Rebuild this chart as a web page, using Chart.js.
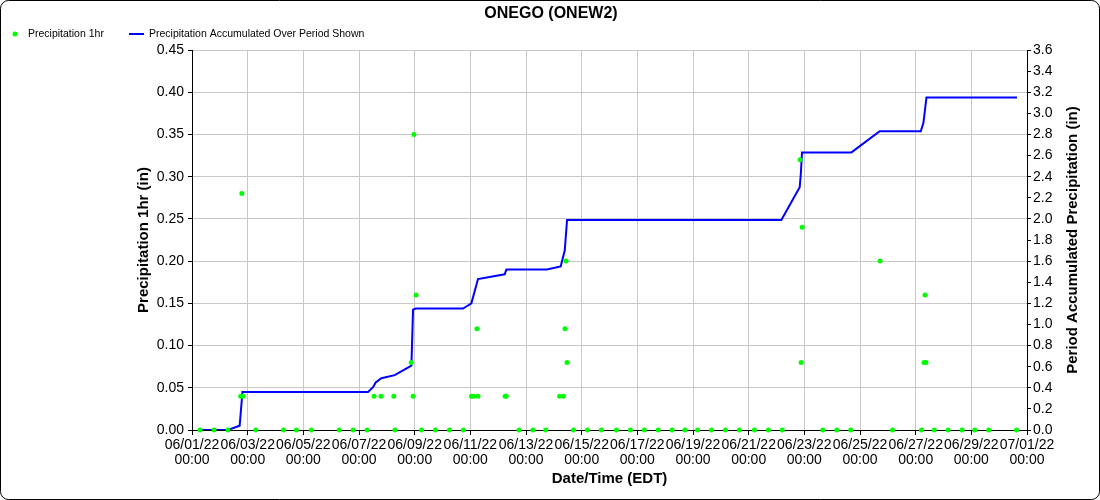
<!DOCTYPE html>
<html lang="en">
<head>
  <meta charset="UTF-8">
  <title>ONEGO (ONEW2)</title>
  <script src="https://cdn.jsdelivr.net/npm/chart.js"></script>
  <style>
    body {
      margin: 0;
      background: #ffffff;
    }
    canvas {
      display: block;
    }
  </style>
</head>
<body>

  <canvas id="grafico" width="1100" height="500"></canvas>

  <script>
    // times are hours after 06/01/22 00:00 EDT
    const hourlyTimes = [
      7, 19, 31, 42, 43, 44, 55, 79, 90, 103, 127, 139, 151, 157, 163, 174, 175,
      189, 190.6, 191.4, 193.2, 198, 210, 222, 234, 241, 242.6, 245.7, 246.6,
      270, 271, 282, 294, 305, 317, 320.3, 321.6, 322.5, 323.4, 329, 341, 353,
      366, 378, 390, 402, 414, 425, 436, 448, 460, 472, 485, 497, 509,
      524.3, 525.2, 526.1, 544, 556, 568, 593.3, 604, 629, 631.2, 632.1, 632.9,
      640, 652, 664, 675, 687, 711
    ];
    const hourlyValues = [
      0, 0, 0, 0.04, 0.28, 0.04, 0, 0, 0, 0, 0, 0, 0, 0.04, 0.04, 0.04, 0,
      0.08, 0.04, 0.35, 0.16, 0, 0, 0, 0, 0.04, 0.04, 0.12, 0.04,
      0.04, 0.04, 0, 0, 0, 0.04, 0.04, 0.12, 0.20, 0.08, 0, 0, 0,
      0, 0, 0, 0, 0, 0, 0, 0, 0, 0, 0, 0, 0,
      0.32, 0.08, 0.24, 0, 0, 0, 0.20, 0, 0, 0.08, 0.16, 0.08,
      0, 0, 0, 0, 0, 0
    ];

    const accumTimes = [
      7, 31, 41.1, 43.5, 151.8, 156.1, 158.4, 163.3, 174.8, 189.2, 190.6, 192.9,
      233.7, 236.6, 240.9, 246.6, 269.6, 271.1, 306.1, 317.9, 321.4, 323.4,
      508.2, 524, 525, 526, 568.6, 593, 628.4, 630.7, 633.3, 711.4
    ];
    const accumValues = [
      0, 0, 0.04, 0.36, 0.36, 0.405, 0.45, 0.49, 0.52, 0.61, 1.14, 1.15,
      1.15, 1.17, 1.20, 1.43, 1.475, 1.52, 1.52, 1.55, 1.70, 1.99,
      1.99, 2.30, 2.43, 2.63, 2.63, 2.83, 2.83, 2.91, 3.15, 3.15
    ];

    const tickDates = [
      '06/01/22', '06/03/22', '06/05/22', '06/07/22', '06/09/22', '06/11/22',
      '06/13/22', '06/15/22', '06/17/22', '06/19/22', '06/21/22', '06/23/22',
      '06/25/22', '06/27/22', '06/29/22', '07/01/22'
    ];

    const fonte = 'Liberation Sans, Arial, sans-serif';

    // title, legend, right axis title and frame drawn by hand so they sit where the original has them
    const moldura = {
      id: 'moldura',
      afterDraw(chart) {
        const ctx = chart.ctx;
        ctx.save();
        ctx.strokeStyle = '#000';
        ctx.lineWidth = 1;
        ctx.beginPath();
        ctx.roundRect(0.5, 0.5, 1099, 499, 8);
        ctx.stroke();

        ctx.fillStyle = '#000';
        ctx.textBaseline = 'middle';
        ctx.textAlign = 'center';
        ctx.font = 'bold 16px ' + fonte;
        ctx.fillText('ONEGO (ONEW2)', 551, 14);

        ctx.save();
        ctx.translate(1073, 240);
        ctx.rotate(-Math.PI / 2);
        ctx.font = 'bold 15px ' + fonte;
        ctx.fillText('Period Accumulated Precipitation (in)', 0, 0);
        ctx.restore();

        ctx.textAlign = 'left';
        ctx.font = '10.5px ' + fonte;
        ctx.fillStyle = '#00ff00';
        ctx.beginPath();
        ctx.arc(15, 34, 2.5, 0, Math.PI * 2);
        ctx.fill();
        ctx.fillStyle = '#000';
        ctx.fillText('Precipitation 1hr', 28, 34);

        ctx.strokeStyle = '#0000ff';
        ctx.lineWidth = 2;
        ctx.beginPath();
        ctx.moveTo(129, 34);
        ctx.lineTo(144, 34);
        ctx.stroke();
        ctx.fillText('Precipitation Accumulated Over Period Shown', 149, 34);
        ctx.restore();
      }
    };

    const ctx = document.getElementById('grafico').getContext('2d');
    const chart = new Chart(ctx, {
      type: 'scatter',
      data: {
        datasets: [{
          label: 'Precipitation 1hr',
          data: hourlyTimes.map((t, i) => ({ x: t, y: hourlyValues[i] })),
          backgroundColor: '#00ff00',
          borderColor: '#00ff00',
          pointRadius: 2.5,
          pointBorderWidth: 0,
          showLine: false,
          yAxisID: 'y',
          clip: false
        }, {
          label: 'Precipitation Accumulated Over Period Shown',
          data: accumTimes.map((t, i) => ({ x: t, y: accumValues[i] })),
          borderColor: '#0000ff',
          backgroundColor: '#0000ff',
          borderWidth: 2,
          pointRadius: 0,
          showLine: true,
          tension: 0,
          yAxisID: 'y1'
        }]
      },
      options: {
        responsive: false,
        animation: false,
        layout: { padding: { top: 50, left: 0, right: 0, bottom: 0 } },
        plugins: {
          legend: { display: false },
          title: { display: false }
        },
        scales: {
          x: {
            type: 'linear',
            position: 'bottom',
            min: 0,
            max: 720,
            afterFit(scale) { scale.height = 70; },
            ticks: {
              stepSize: 48,
              maxTicksLimit: 20,
              autoSkip: false,
              maxRotation: 0,
              minRotation: 0,
              padding: 2,
              color: '#000',
              font: { family: fonte, size: 14, lineHeight: 1.1 },
              callback: (v) => [tickDates[Math.round(v / 48)], '00:00']
            },
            grid: { color: '#c8c8c8', tickColor: '#000', tickLength: 5 },
            border: { color: '#000' },
            title: {
              display: true,
              text: 'Date/Time (EDT)',
              color: '#000',
              font: { family: fonte, size: 15, weight: 'bold' },
              padding: { top: 0, bottom: 12 }
            }
          },
          y: {
            position: 'left',
            min: 0,
            max: 0.45,
            afterFit(scale) { scale.width = 192; },
            ticks: {
              stepSize: 0.05,
              maxTicksLimit: 20,
              padding: 4,
              color: '#000',
              font: { family: fonte, size: 14 },
              callback: (v) => v.toFixed(2)
            },
            grid: { color: '#c8c8c8', tickColor: '#000', tickLength: 4 },
            border: { color: '#000' },
            title: {
              display: true,
              text: 'Precipitation 1hr (in)',
              color: '#000',
              font: { family: fonte, size: 15, weight: 'bold' },
              padding: { top: 135, bottom: 0 }
            }
          },
          y1: {
            position: 'right',
            min: 0,
            max: 3.6,
            afterFit(scale) { scale.width = 73; },
            ticks: {
              stepSize: 0.2,
              maxTicksLimit: 20,
              padding: 2,
              color: '#000',
              font: { family: fonte, size: 14 },
              callback: (v) => v.toFixed(1)
            },
            grid: { drawOnChartArea: false, tickColor: '#000', tickLength: 4 },
            border: { color: '#000' }
          }
        }
      },
      plugins: [moldura]
    });
  </script>

</body>
</html>
